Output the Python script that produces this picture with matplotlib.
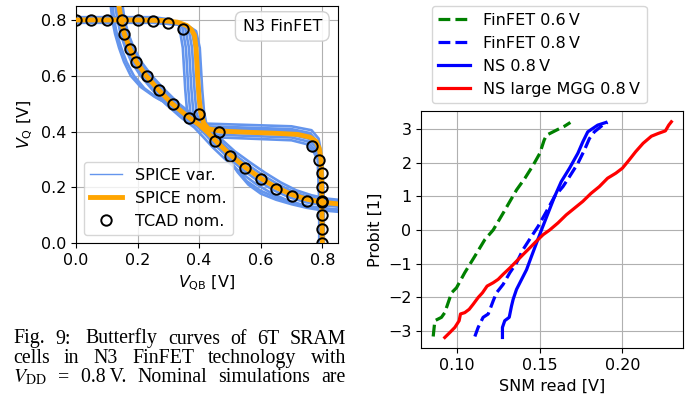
import numpy as np
import matplotlib
matplotlib.use("Agg")
import matplotlib.pyplot as plt
from matplotlib.lines import Line2D

plt.rcParams["font.size"] = 11.5

# ---------------- butterfly curves (V_QB, V_Q) ----------------
nom_a_x = [0.00, 0.10, 0.20, 0.28, 0.33, 0.36, 0.375, 0.385, 0.39, 0.395, 0.40, 0.405,
           0.415, 0.43, 0.47, 0.55, 0.65, 0.72, 0.76, 0.78, 0.79, 0.796, 0.798, 0.80]
nom_a_y = [0.80, 0.80, 0.80, 0.798, 0.792, 0.78, 0.765, 0.745, 0.70, 0.60, 0.52, 0.47,
           0.43, 0.41, 0.402, 0.398, 0.394, 0.39, 0.38, 0.365, 0.34, 0.30, 0.20, 0.00]

nom_b_x = [0.138, 0.147, 0.157, 0.174, 0.196, 0.228, 0.268, 0.312, 0.362, 0.40,
           0.43, 0.46, 0.50, 0.55, 0.60, 0.65, 0.70, 0.75, 0.80, 0.86]
nom_b_y = [0.86, 0.80, 0.75, 0.70, 0.65, 0.60, 0.55, 0.50, 0.455, 0.425,
           0.395, 0.36, 0.318, 0.272, 0.233, 0.20, 0.175, 0.158, 0.147, 0.14]

var_a_x = [
    [0, 0.25, 0.305, 0.335, 0.347, 0.355, 0.361, 0.375, 0.415, 0.70, 0.765, 0.788, 0.800, 0.805, 0.805],
    [0, 0.25, 0.315, 0.345, 0.357, 0.365, 0.371, 0.385, 0.425, 0.70, 0.760, 0.783, 0.795, 0.800, 0.800],
    [0, 0.25, 0.325, 0.355, 0.367, 0.375, 0.381, 0.395, 0.435, 0.70, 0.760, 0.783, 0.795, 0.800, 0.800],
    [0, 0.25, 0.335, 0.365, 0.377, 0.385, 0.391, 0.405, 0.445, 0.70, 0.758, 0.781, 0.793, 0.798, 0.798],
    [0, 0.25, 0.345, 0.375, 0.387, 0.395, 0.401, 0.415, 0.455, 0.70, 0.755, 0.778, 0.790, 0.795, 0.795],
    [0, 0.25, 0.350, 0.380, 0.392, 0.400, 0.406, 0.420, 0.460, 0.70, 0.752, 0.775, 0.787, 0.792, 0.792],
    [0, 0.25, 0.360, 0.390, 0.402, 0.410, 0.416, 0.430, 0.470, 0.70, 0.750, 0.773, 0.785, 0.790, 0.790],
]
var_a_y = [
    [0.81, 0.81, 0.802, 0.78, 0.70, 0.55, 0.47, 0.44, 0.429, 0.419, 0.405, 0.375, 0.30, 0.15, 0.0],
    [0.805, 0.805, 0.797, 0.775, 0.70, 0.55, 0.47, 0.43, 0.419, 0.409, 0.395, 0.365, 0.30, 0.15, 0.0],
    [0.80, 0.80, 0.792, 0.77, 0.70, 0.55, 0.47, 0.425, 0.414, 0.404, 0.39, 0.36, 0.30, 0.15, 0.0],
    [0.80, 0.80, 0.792, 0.77, 0.70, 0.55, 0.47, 0.42, 0.409, 0.399, 0.385, 0.355, 0.30, 0.15, 0.0],
    [0.795, 0.795, 0.787, 0.765, 0.70, 0.55, 0.47, 0.41, 0.399, 0.389, 0.375, 0.345, 0.30, 0.15, 0.0],
    [0.79, 0.79, 0.782, 0.76, 0.70, 0.55, 0.47, 0.40, 0.389, 0.379, 0.365, 0.335, 0.30, 0.15, 0.0],
    [0.79, 0.79, 0.782, 0.76, 0.70, 0.55, 0.47, 0.39, 0.379, 0.369, 0.355, 0.325, 0.30, 0.15, 0.0],
]

var_b_x = [
    [0.150, 0.158, 0.170, 0.188, 0.212, 0.246, 0.288, 0.334, 0.380, 0.415, 0.445, 0.475, 0.515, 0.565, 0.615, 0.665, 0.715, 0.765, 0.815, 0.86],
    [0.144, 0.153, 0.164, 0.181, 0.204, 0.237, 0.278, 0.323, 0.371, 0.408, 0.438, 0.468, 0.508, 0.558, 0.608, 0.658, 0.708, 0.758, 0.808, 0.86],
    [0.132, 0.141, 0.151, 0.167, 0.188, 0.219, 0.258, 0.301, 0.352, 0.392, 0.422, 0.452, 0.492, 0.542, 0.592, 0.642, 0.692, 0.742, 0.792, 0.86],
    [0.126, 0.135, 0.145, 0.160, 0.180, 0.210, 0.248, 0.290, 0.342, 0.384, 0.414, 0.444, 0.484, 0.534, 0.584, 0.634, 0.684, 0.734, 0.784, 0.86],
    [0.112, 0.118, 0.127, 0.140, 0.156, 0.178, 0.210, 0.255, 0.305, 0.355, 0.400, 0.430, 0.465, 0.495, 0.525, 0.560, 0.600, 0.650, 0.700, 0.750, 0.800, 0.86],
    [0.118, 0.124, 0.133, 0.147, 0.164, 0.188, 0.222, 0.265, 0.312, 0.360, 0.402, 0.428, 0.462, 0.490, 0.520, 0.555, 0.600, 0.650, 0.700, 0.750, 0.800, 0.86],
]
var_b_y = [
    [0.86, 0.80, 0.75, 0.70, 0.65, 0.60, 0.55, 0.50, 0.46, 0.43, 0.40, 0.37, 0.33, 0.29, 0.252, 0.218, 0.19, 0.172, 0.16, 0.155],
    [0.86, 0.80, 0.75, 0.70, 0.65, 0.60, 0.55, 0.50, 0.458, 0.428, 0.398, 0.365, 0.324, 0.281, 0.243, 0.21, 0.183, 0.165, 0.153, 0.147],
    [0.86, 0.80, 0.75, 0.70, 0.65, 0.60, 0.55, 0.50, 0.452, 0.42, 0.388, 0.352, 0.31, 0.263, 0.223, 0.19, 0.165, 0.148, 0.138, 0.13],
    [0.86, 0.80, 0.75, 0.70, 0.65, 0.60, 0.55, 0.50, 0.45, 0.415, 0.38, 0.344, 0.302, 0.254, 0.213, 0.18, 0.155, 0.138, 0.128, 0.12],
    [0.86, 0.80, 0.75, 0.70, 0.65, 0.60, 0.56, 0.525, 0.495, 0.465, 0.430, 0.400, 0.355, 0.305, 0.255, 0.210, 0.178, 0.156, 0.140, 0.127, 0.118, 0.112],
    [0.86, 0.80, 0.75, 0.70, 0.65, 0.60, 0.555, 0.52, 0.49, 0.462, 0.428, 0.402, 0.360, 0.312, 0.265, 0.222, 0.188, 0.164, 0.147, 0.133, 0.124, 0.118],
]

tcad_x = [0.0, 0.05, 0.10, 0.15, 0.20, 0.25, 0.30, 0.347, 0.40, 0.463, 0.767, 0.789, 0.798,
          0.80, 0.80, 0.80, 0.80, 0.80,
          0.156, 0.174, 0.195, 0.23, 0.271, 0.314, 0.366, 0.45, 0.499, 0.55, 0.602,
          0.651, 0.70, 0.751, 0.80]
tcad_y = [0.80, 0.80, 0.80, 0.80, 0.80, 0.797, 0.79, 0.769, 0.463, 0.399, 0.35, 0.30, 0.25,
          0.20, 0.15, 0.10, 0.05, 0.0,
          0.749, 0.697, 0.649, 0.599, 0.548, 0.499, 0.449, 0.365, 0.314, 0.269, 0.23,
          0.195, 0.17, 0.153, 0.147]

# ---------------- SNM probit plot ----------------
fin06_snm = [0.0855, 0.0865, 0.0905, 0.0925, 0.0946, 0.0966, 0.0996, 0.1046, 0.1107, 0.1167,
             0.1218, 0.1278, 0.1319, 0.1359, 0.141, 0.146, 0.150, 0.1526, 0.154, 0.160, 0.165, 0.1685]
fin06_prob = [-3.17, -2.7, -2.6, -2.46, -2.16, -1.87, -1.72, -1.27, -0.78, -0.29,
              0.0, 0.5, 0.85, 1.19, 1.54, 1.93, 2.28, 2.67, 2.82, 2.97, 3.09, 3.2]

fin08_snm = [0.1107, 0.1127, 0.1157, 0.1188, 0.1218, 0.1238, 0.1278, 0.1319, 0.1359, 0.1399,
             0.145, 0.149, 0.154, 0.159, 0.164, 0.168, 0.173, 0.177, 0.180, 0.183, 0.188, 0.191]
fin08_prob = [-3.17, -2.9, -2.6, -2.5, -2.11, -1.87, -1.62, -1.27, -0.98, -0.58,
              -0.19, 0.11, 0.55, 1.0, 1.29, 1.59, 1.98, 2.38, 2.72, 2.92, 3.12, 3.2]

ns08_snm = [0.1274, 0.1274, 0.1288, 0.1315, 0.1329, 0.1339, 0.1359, 0.139, 0.142, 0.145, 0.148,
            0.151, 0.155, 0.159, 0.163, 0.168, 0.173, 0.176, 0.179, 0.182, 0.185, 0.190]
ns08_prob = [-3.2, -2.9, -2.7, -2.6, -2.26, -2.06, -1.77, -1.47, -1.18, -0.78, -0.39,
             0.0, 0.5, 1.0, 1.44, 1.84, 2.28, 2.62, 2.92, 3.02, 3.12, 3.2]

nsmgg_snm = [0.0925, 0.0956, 0.0986, 0.1012, 0.102, 0.1046, 0.1073, 0.1097, 0.1127, 0.1153,
             0.1181, 0.1218, 0.1248, 0.1278, 0.1319, 0.1359, 0.1399, 0.144, 0.148, 0.152,
             0.156, 0.161, 0.166, 0.171, 0.176, 0.181, 0.186, 0.191, 0.196, 0.200, 0.204,
             0.208, 0.2125, 0.2175, 0.2215, 0.226, 0.228, 0.2296]
nsmgg_prob = [-3.2, -3.05, -2.9, -2.7, -2.5, -2.46, -2.36, -2.21, -2.01, -1.87,
              -1.67, -1.57, -1.47, -1.32, -1.13, -0.93, -0.73, -0.53, -0.33, -0.14,
              0.0, 0.21, 0.45, 0.65, 0.85, 1.09, 1.29, 1.54, 1.69, 1.84, 2.08,
              2.33, 2.58, 2.79, 2.87, 2.95, 3.12, 3.22]

fig = plt.figure(figsize=(6.99, 4.0), dpi=100)

# left panel
ax = fig.add_axes([0.1087, 0.3918, 0.3744, 0.5932])
var_c = "cornflowerblue"
for xs, ys in zip(var_a_x, var_a_y):
    ax.plot(xs, ys, color=var_c, lw=1.9, zorder=2)
for xs, ys in zip(var_b_x, var_b_y):
    ax.plot(xs, ys, color=var_c, lw=1.9, zorder=2)
ax.plot(nom_a_x, nom_a_y, color="orange", lw=3.5, zorder=3)
ax.plot(nom_b_x, nom_b_y, color="orange", lw=3.5, zorder=3)
ax.plot(tcad_x, tcad_y, ls="none", marker="o", ms=7.5, mfc="none", mec="k", mew=1.4, zorder=4)
ax.set_xlim(0, 0.85)
ax.set_ylim(0, 0.85)
ax.set_xticks([0.0, 0.2, 0.4, 0.6, 0.8])
ax.set_yticks([0.0, 0.2, 0.4, 0.6, 0.8])
ax.grid(True)
ax.set_axisbelow(True)
ax.set_xlabel(r"$V_{\mathrm{QB}}$ [V]")
ax.set_ylabel(r"$V_{\mathrm{Q}}$ [V]")
handles = [Line2D([], [], color=var_c, lw=1),
           Line2D([], [], color="orange", lw=3.5),
           Line2D([], [], ls="none", marker="o", ms=7.5, mfc="none", mec="k", mew=1.4)]
ax.legend(handles, ["SPICE var.", "SPICE nom.", "TCAD nom."], loc="lower left")
ax.text(0.94, 0.914, "N3 FinFET", transform=ax.transAxes, ha="right", va="center",
        bbox=dict(boxstyle="round,pad=0.45", fc="white", ec="0.8", alpha=0.9), zorder=6)

# right panel
ax2 = fig.add_axes([0.6027, 0.1293, 0.3748, 0.5932])
ax2.plot(fin06_snm, fin06_prob, color="green", ls="--", lw=2.3, label="FinFET 0.6\u2009V")
ax2.plot(fin08_snm, fin08_prob, color="blue", ls="--", lw=2.3, label="FinFET 0.8\u2009V")
ax2.plot(ns08_snm, ns08_prob, color="blue", ls="-", lw=2.3, label="NS 0.8\u2009V")
ax2.plot(nsmgg_snm, nsmgg_prob, color="red", ls="-", lw=2.3, label="NS large MGG 0.8\u2009V")
ax2.set_xticks([0.10, 0.15, 0.20])
ax2.set_yticks([-3, -2, -1, 0, 1, 2, 3])
ax2.grid(True)
ax2.set_xlabel("SNM read [V]")
ax2.set_ylabel("Probit [1]")
ax2.legend(loc="lower left", bbox_to_anchor=(0.041, 1.034), borderaxespad=0)

# caption, justified line by line
cap_kw = dict(family="Liberation Serif", fontsize=14.3, math_fontfamily="stix", va="baseline")
cap_lines = [
    ["Fig.", "9:", "Butterfly", "curves", "of", "6T", "SRAM"],
    ["cells", "in", "N3", "FinFET", "technology", "with"],
    [r"$V_{\mathrm{DD}}$", "=", "0.8\u2009V.", "Nominal", "simulations", "are"],
]
gap_weights = [
    [1, 1.5, 1, 1, 1, 1],
    [1, 1, 1, 1, 1],
    [1, 1, 1, 1, 1],
]
cap_base = [343.5, 363, 382.5]
x0, x1 = 13, 346
W, H = fig.bbox.width, fig.bbox.height
r = fig.canvas.get_renderer()
for words, wts, yb in zip(cap_lines, gap_weights, cap_base):
    texts = [fig.text(0, 1 - yb / H, w, **cap_kw) for w in words]
    widths = [t.get_window_extent(r).width for t in texts]
    unit = ((x1 - x0) - sum(widths)) / sum(wts)
    x = x0
    for i, (t, w) in enumerate(zip(texts, widths)):
        t.set_x(x / W)
        if i < len(wts):
            x += w + unit * wts[i]

fig.savefig("out.png", dpi=100)
